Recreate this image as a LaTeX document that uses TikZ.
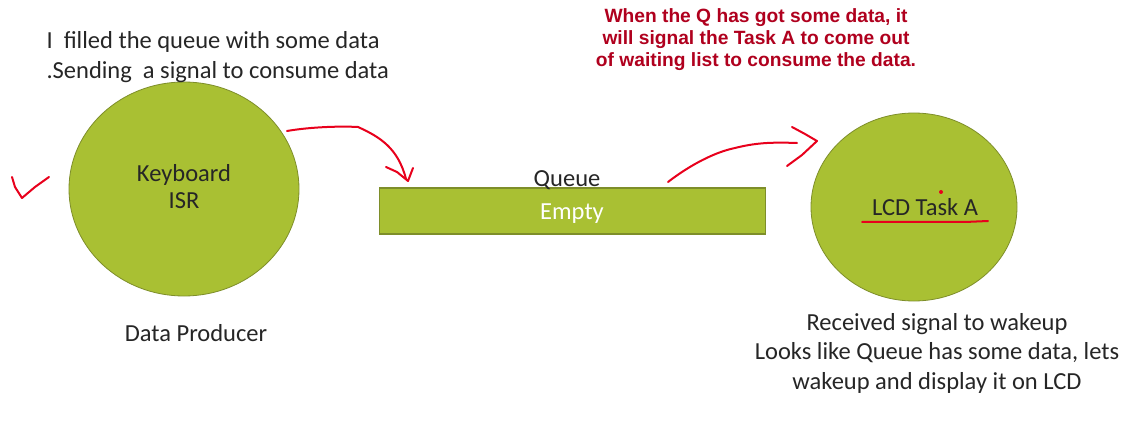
\documentclass[tikz,border=0pt]{standalone}
\usepackage{fontspec}
\setmainfont{Carlito}
\newfontfamily\arialfont{Liberation Sans}
\usetikzlibrary{shapes.geometric}
\definecolor{olive}{HTML}{A9C033}
\definecolor{olivedark}{HTML}{7E8E2A}
\definecolor{notered}{HTML}{B0001E}
\definecolor{pen}{HTML}{E8001C}
\tikzset{
  blob/.style={ellipse, fill=olive, draw=olivedark, line width=0.8pt},
  qbox/.style={rectangle, fill=olive, draw=olivedark, line width=1.6pt, minimum width=386pt, minimum height=46pt},
  lbl/.style={text=black!85, font=\fontsize{24.5}{28}\selectfont},
  caption/.style={align=center, text=black!85, font=\fontsize{24.5}{29.5}\selectfont},
  note/.style={align=center, text=notered, font=\arialfont\bfseries\fontsize{19.2}{22}\selectfont},
  ink/.style={draw=pen, line width=2pt, line cap=round, line join=round}
}
\begin{document}
\begin{tikzpicture}[x=1pt, y=-1pt]
\useasboundingbox (0,0) rectangle (1138,422);
\fill[white] (0,0) rectangle (1138,422);

\node[blob, minimum width=230pt, minimum height=214pt] (kb) at (184,189) {};
\node[lbl, align=center, font=\fontsize{24.5}{27}\selectfont] (kblabel) at (184,187) {Keyboard\\ISR};
\node[blob, minimum width=206pt, minimum height=188pt] (lcd) at (914,207) {};
\node[lbl, anchor=base] (lcdlabel) at (925,216) {LCD Task A};

\node[qbox] (q) at (572.5,211) {};
\node[lbl, text=white, anchor=base] (qempty) at (572,220) {Empty};
\node[lbl, anchor=base] (qlabel) at (567,187) {Queue};

\node[caption] (prod) at (196,333) {Data Producer};
\node[caption, align=left, anchor=west] (fill) at (43,57) {I\ \ filled the queue with some data\\.Sending\ \ a signal to consume data};
\node[caption] (recv) at (937,353) {Received signal to wakeup\\Looks like Queue has some data, lets\\wakeup and display it on LCD};
\node[note] (sig) at (756,40) {When the Q has got some data, it\\will signal the Task A to come out\\of waiting list to consume the data.};

% freehand annotations
\coordinate (a1s) at (287,131);
\coordinate (a1e) at (406,179);
\coordinate (a2s) at (668,182);
\coordinate (a2e) at (797,143);
\draw[ink] (12,177) -- (15,187) -- (22,198) -- (35,187) -- (49,177);
\draw[ink] (a1s) .. controls (310,127) and (340,126) .. (358,127) .. controls (380,137) and (398,148) .. (a1e);
\draw[ink] (386,167) -- (397,172) -- (408,181) -- (413,168);
\draw[ink] (a2s) .. controls (690,165) and (715,152) .. (735,148) .. controls (755,143) and (770,142) .. (a2e);
\draw[ink] (792,127) -- (805,134) -- (817,141) -- (802,155) -- (787,166);
\draw[ink] (862,222) -- (965,222) -- (988,221);
\fill[pen] (941,192) circle (2pt);
\end{tikzpicture}
\end{document}
